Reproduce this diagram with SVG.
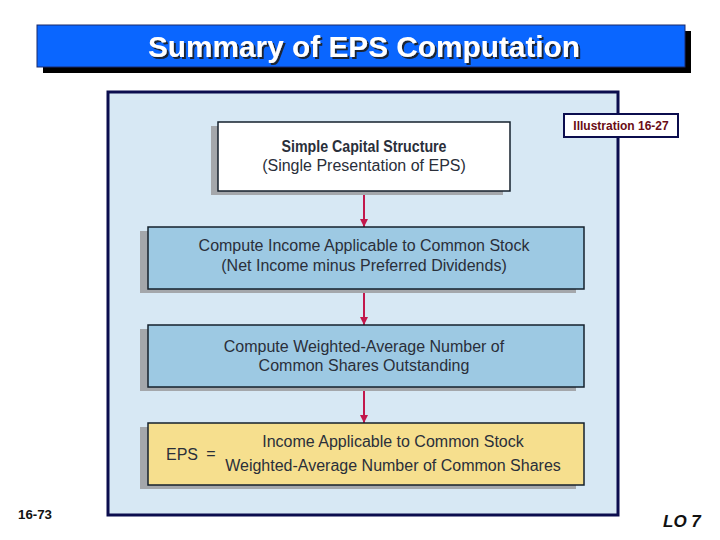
<svg xmlns="http://www.w3.org/2000/svg" width="720" height="540" viewBox="0 0 720 540">
<defs>
<style>
.body{font-family:"Liberation Sans",Arial,sans-serif;font-size:16px;fill:#2a2f3a;text-anchor:middle}
.start{text-anchor:start}
.shadow{fill:#a4a7ab}
.box{stroke:#14202c;stroke-width:1.5}
.conn{stroke:#c2184c;stroke-width:2;fill:none;marker-end:url(#ah)}
</style>
<marker id="ah" viewBox="0 0 10 10" refX="10" refY="5" markerWidth="4" markerHeight="4" orient="auto" markerUnits="strokeWidth">
<path d="M0,0 L10,5 L0,10 z" fill="#c2184c"/>
</marker>
<filter id="ts" x="-5%" y="-30%" width="110%" height="160%">
<feDropShadow dx="2" dy="2" stdDeviation="0.6" flood-color="#1a1a1a" flood-opacity="0.9"/>
</filter>
</defs>
<rect width="720" height="540" fill="#ffffff"/>
<g id="title">
<rect x="43" y="31" width="648" height="42" fill="#000"/>
<rect x="37" y="25" width="648" height="42" fill="#0a66ff" stroke="#1a2a6a" stroke-width="1"/>
<text x="364" y="57" font-family="'Liberation Sans',Arial,sans-serif" font-size="29" font-weight="bold" fill="#ffffff" text-anchor="middle" filter="url(#ts)" textLength="432" lengthAdjust="spacingAndGlyphs">Summary of EPS Computation</text>
</g>
<g id="panel">
<rect x="108" y="92" width="510" height="423" fill="#d7e8f4" stroke="#0b0d4e" stroke-width="3"/>
</g>
<g id="label">
<rect x="564" y="114" width="114" height="23" fill="#fff" stroke="#0b0d4e" stroke-width="2"/>
<text x="621" y="130" font-family="'Liberation Sans',Arial,sans-serif" font-size="12" font-weight="bold" fill="#6a0c14" text-anchor="middle">Illustration 16-27</text>
</g>
<g id="connectors">
<line class="conn" x1="364" y1="192" x2="364" y2="227"/>
<line class="conn" x1="364" y1="290" x2="364" y2="325"/>
<line class="conn" x1="364" y1="387" x2="364" y2="423"/>
</g>
<g id="n1">
<rect class="shadow" x="211" y="126" width="292" height="69"/>
<rect class="box" x="218" y="122" width="292" height="69" fill="#ffffff" stroke="#4a4a4a"/>
<text class="body" x="364" y="152" font-weight="bold" font-size="14.5" fill="#2a2a2a" textLength="165" lengthAdjust="spacingAndGlyphs">Simple Capital Structure</text>
<text class="body" x="364" y="171" fill="#3a3a3a">(Single Presentation of EPS)</text>
</g>
<g id="n2">
<rect class="shadow" x="140" y="231" width="436" height="62"/>
<rect class="box" x="148" y="227" width="436" height="62" fill="#9dc9e3"/>
<text class="body" x="364" y="251">Compute Income Applicable to Common Stock</text>
<text class="body" x="364" y="271">(Net Income minus Preferred Dividends)</text>
</g>
<g id="n3">
<rect class="shadow" x="140" y="329" width="436" height="62"/>
<rect class="box" x="148" y="325" width="436" height="62" fill="#9dc9e3"/>
<text class="body" x="364" y="352">Compute Weighted-Average Number of</text>
<text class="body" x="364" y="371">Common Shares Outstanding</text>
</g>
<g id="n4">
<rect class="shadow" x="140" y="427" width="436" height="62"/>
<rect class="box" x="148" y="423" width="436" height="62" fill="#f6df8e"/>
<text class="body start" x="166" y="460">EPS</text>
<text class="body" x="211" y="459">=</text>
<text class="body" x="393" y="447">Income Applicable to Common Stock</text>
<text class="body" x="393" y="471">Weighted-Average Number of Common Shares</text>
</g>
<text x="18" y="519" font-family="'Liberation Sans',Arial,sans-serif" font-size="12" font-weight="bold" fill="#111" textLength="34" lengthAdjust="spacingAndGlyphs">16-73</text>
<text x="663" y="527" font-family="'Liberation Sans',Arial,sans-serif" font-size="17" font-weight="bold" font-style="italic" fill="#111">LO 7</text>
</svg>
